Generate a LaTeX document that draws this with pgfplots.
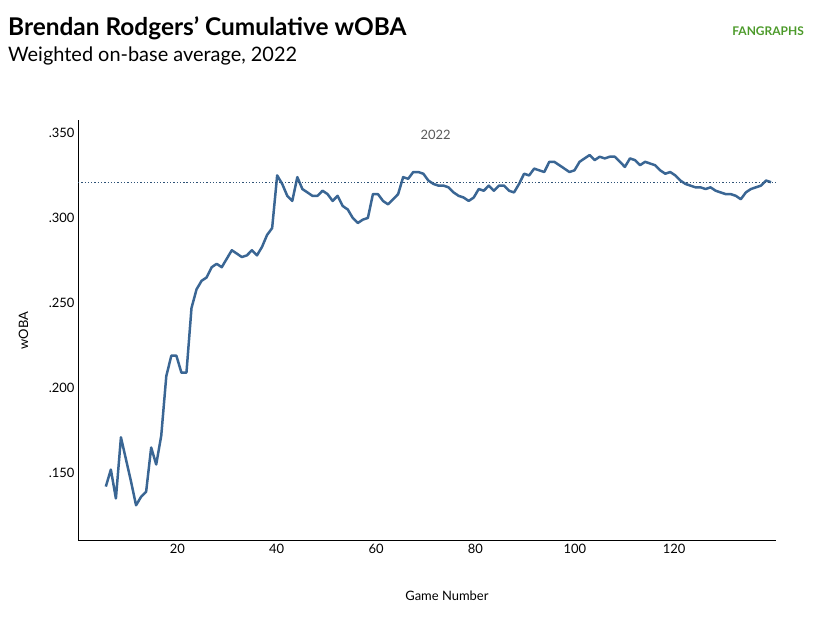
\documentclass[border=0pt]{standalone}
\usepackage{pgfplots}
\pgfplotsset{compat=1.18}
\usepackage{fontspec}
\setmainfont{Lato}
\definecolor{lc}{HTML}{3A6694}
\definecolor{fg}{HTML}{4C9A2A}
\begin{document}
\begin{tikzpicture}[x=1bp,y=1bp]
\useasboundingbox (0,0) rectangle (816,618);
\node[anchor=west,font=\bfseries\fontsize{24.5}{28}\selectfont,inner sep=0] at (8,590) {Brendan Rodgers' Cumulative wOBA};
\node[anchor=west,font=\fontsize{20}{24}\selectfont,inner sep=0] at (8,562) {Weighted on-base average, 2022};
\node[anchor=east,font=\bfseries\fontsize{12}{14}\selectfont,text=fg,inner sep=0] at (804,587) {FANGRAPHS};
\begin{axis}[at={(78bp,77bp)},anchor=south west,scale only axis,width=698bp,height=421bp,
 xmin=0,xmax=140.5,ymin=0.110,ymax=0.3576,
 axis x line*=bottom, axis y line*=left, axis line style={black,line width=1pt},
 xtick={20,40,...,120}, ytick={0.15,0.2,0.25,0.3,0.35},
 yticklabels={.150,.200,.250,.300,.350},
 major tick length=0pt,
 tick label style={font=\fontsize{13}{15}\selectfont},
 /pgf/number format/assume math mode=true,
 xlabel={Game Number}, ylabel={wOBA},
 label style={font=\fontsize{13}{15}\selectfont},
 xlabel style={yshift=-30pt,xshift=20pt}, ylabel style={yshift=14pt},
 clip=false]
\addplot[lc,line width=2.5pt,line join=round,x filter/.expression={5.6+(x-6)*1.0144}] coordinates {
(6,.142)(7,.152)(8,.135)(9,.171)(10,.158)(11,.145)(12,.131)(13,.136)(14,.139)(15,.165)
(16,.155)(17,.172)(18,.207)(19,.219)(20,.219)(21,.209)(22,.209)(23,.247)(24,.258)(25,.263)
(26,.265)(27,.271)(28,.273)(29,.271)(30,.276)(31,.281)(32,.279)(33,.277)(34,.278)(35,.281)
(36,.278)(37,.283)(38,.290)(39,.294)(40,.325)(41,.320)(42,.313)(43,.310)(44,.324)(45,.317)
(46,.315)(47,.313)(48,.313)(49,.316)(50,.314)(51,.310)(52,.313)(53,.307)(54,.305)(55,.300)
(56,.297)(57,.299)(58,.300)(59,.314)(60,.314)(61,.310)(62,.308)(63,.311)(64,.314)(65,.324)
(66,.323)(67,.327)(68,.327)(69,.326)(70,.322)(71,.320)(72,.319)(73,.319)(74,.318)(75,.315)
(76,.313)(77,.312)(78,.310)(79,.312)(80,.317)(81,.316)(82,.319)(83,.316)(84,.319)(85,.319)
(86,.316)(87,.315)(88,.320)(89,.326)(90,.325)(91,.329)(92,.328)(93,.327)(94,.333)(95,.333)
(96,.331)(97,.329)(98,.327)(99,.328)(100,.333)(101,.335)(102,.337)(103,.334)(104,.336)(105,.335)
(106,.336)(107,.336)(108,.333)(109,.330)(110,.335)(111,.334)(112,.331)(113,.333)(114,.332)(115,.331)
(116,.328)(117,.326)(118,.327)(119,.325)(120,.322)(121,.320)(122,.319)(123,.318)(124,.318)(125,.317)
(126,.318)(127,.316)(128,.315)(129,.314)(130,.314)(131,.313)(132,.311)(133,.315)(134,.317)(135,.318)
(136,.319)(137,.322)(138,.321)};
\addplot[lc!80!black,line width=1.3pt,dotted] coordinates {(0,.321)(140.5,.321)};
\node[font=\fontsize{13}{15}\selectfont,text=black!65] at (axis cs:72,.349) {2022};
\end{axis}
\end{tikzpicture}
\end{document}
